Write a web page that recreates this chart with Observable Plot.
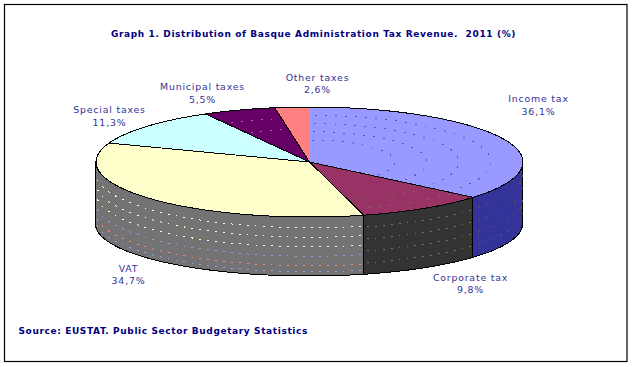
<!DOCTYPE html>
<html><head><meta charset="utf-8">
<script src="https://cdn.jsdelivr.net/npm/d3@7"></script>
<script src="https://cdn.jsdelivr.net/npm/@observablehq/plot@0.6"></script>
<style>
html,body{margin:0;padding:0;background:#fff;overflow:hidden}
svg{display:block}
.head text{letter-spacing:.63px}
.src text{letter-spacing:.62px}
.lab text{letter-spacing:.8px}
</style></head><body><div id="c"></div>
<script>
const categories = ["Income tax","Corporate tax","VAT","Special taxes","Municipal taxes","Other taxes"];
const shares = [36.1,9.8,34.7,11.3,5.5,2.6];
const topColors = ["#9999FF","#993366","#FFFFCC","#CCFFFF","#660066","#FF8080"];
const wallColors = ["#333399","#333333","#737373","#737373","#737373","#737373"];
const titleText = "Graph 1. Distribution of Basque Administration Tax Revenue.  2011 (%)";
const sourceText = "Source: EUSTAT. Public Sector Budgetary Statistics";

// layout of the tilted disc (pixel units, x and y scales are identity)
const W = 634, H = 367;
const upper = {cx:310, cy:162, rx:213.5, ry:55};
const base = {cx:310, cy:224.5, rx:213.5, ry:52};
const labelPos = [[539,104.5],[471,283],[129,274],[110,115.5],[203,92.5],[318,83]];

const rad = d => d*Math.PI/180;
const px = (e,a,r=1) => e.cx + e.rx*r*Math.sin(rad(a));
const py = (e,a,r=1) => e.cy - e.ry*r*Math.cos(rad(a));

// slices from the shares
let acc = 0;
const slices = categories.map((name,i)=>{
  const a0 = acc/100*360; acc += shares[i]; const a1 = acc/100*360;
  return {name,i,a0,a1,share:shares[i]};
});
const arcAngles = (a0,a1) => d3.range(0,121).map(k=>a0+(a1-a0)*k/120);

const topPts = slices.flatMap(s=>[
  {name:s.name,x:upper.cx,y:upper.cy},
  ...arcAngles(s.a0,s.a1).map(a=>({name:s.name,x:px(upper,a),y:py(upper,a)}))
]);
// visible wall: the front half of the disc
const wallPts = slices.flatMap(s=>{
  const a0=Math.max(s.a0,90), a1=Math.min(s.a1,270);
  if(a1<=a0) return [];
  return arcAngles(a0,a1).map(a=>({name:s.name,x:px(upper,a),y1:py(upper,a),y2:py(base,a)}));
});
const wallY = (a,f)=>py(upper,a)*(1-f)+py(base,a)*f;
const wallDots = (name,f,color)=>{
  const s=slices.find(d=>d.name===name);
  const a0=Math.max(s.a0,90)+1,a1=Math.min(s.a1,270)-1;
  return arcAngles(a0,a1).map(a=>({id:name+f,color,x:px(upper,a),y:wallY(a,f)}));
};
const topDots = (name,r,color)=>{
  const s=slices.find(d=>d.name===name);
  return arcAngles(s.a0+2,s.a1-2).map(a=>({id:name+r,color,x:px(upper,a,r),y:py(upper,a,r)}));
};
const wallDotPts = [
  ...[[.18,"#FFFFCC"],[.34,"#FFFFCC"],[.5,"#FFFFCC"],[.66,"#9999FF"],[.82,"#FF8080"],[.92,"#9999FF"]].flatMap(([f,c])=>wallDots("VAT",f,c)),
  ...[.2,.4,.6,.8].flatMap(f=>wallDots("Corporate tax",f,"#707070")),
  ...[.2,.4,.6,.8].flatMap(f=>wallDots("Income tax",f,"#555555"))
];
const topDotPts = [
  ...[.4,.55,.7,.85].flatMap(r=>topDots("Income tax",r,"#5555BB")),
  ...[.72,.88].flatMap(r=>topDots("Corporate tax",r,"#707070")),
  ...[.6,.8].flatMap(r=>topDots("Municipal taxes",r,"#9966CC"))
];

const labels = slices.map(s=>({
  text:`${s.name}\n${s.share.toFixed(1).replace(".",",")}%`,
  x:labelPos[s.i][0], y:labelPos[s.i][1]
}));

const crisp = {shapeRendering:"crispEdges"};
const fig = Plot.plot({
  width:W, height:H, margin:0,
  x:{domain:[0,W],range:[-1,W-1],axis:null},
  y:{domain:[0,H],range:[-0.5,H-0.5],axis:null},
  color:{domain:categories,range:topColors},
  marks:[
    Plot.rect([0],{x1:()=>5.5,x2:()=>628,y1:()=>5,y2:()=>362,fill:"#fff",stroke:"#000",strokeWidth:1.2}),
    Plot.areaY(wallPts,{x:"x",y1:"y1",y2:"y2",z:"name",
      fill:{transform:d=>d.map(p=>wallColors[categories.indexOf(p.name)]),scale:null},stroke:"#000",strokeWidth:1,...crisp}),
    Plot.line(wallDotPts,{x:"x",y:"y",z:"id",stroke:{value:"color",scale:null},strokeDasharray:"1 7",strokeWidth:1,...crisp}),
    Plot.line(topPts,{x:"x",y:"y",z:"name",fill:"name",stroke:"#000",strokeWidth:1,...crisp}),
    Plot.line(topDotPts,{x:"x",y:"y",z:"id",stroke:{value:"color",scale:null},strokeDasharray:"1 9",strokeWidth:1,...crisp}),
    Plot.text(labels,{x:"x",y:"y",text:"text",fontFamily:"DejaVu Sans",fontSize:9.4,fill:"#333399",lineHeight:1.33,className:"lab"}),
    Plot.text([titleText],{x:()=>314,y:()=>34,text:d=>d,fontFamily:"DejaVu Sans",fontWeight:"bold",fontSize:9,fill:"#000080",className:"head"}),
    Plot.text([sourceText],{x:()=>19,y:()=>331,text:d=>d,textAnchor:"start",fontFamily:"DejaVu Sans",fontWeight:"bold",fontSize:9,fill:"#000080",className:"src"})
  ]
});
document.getElementById("c").appendChild(fig);
</script></body></html>
